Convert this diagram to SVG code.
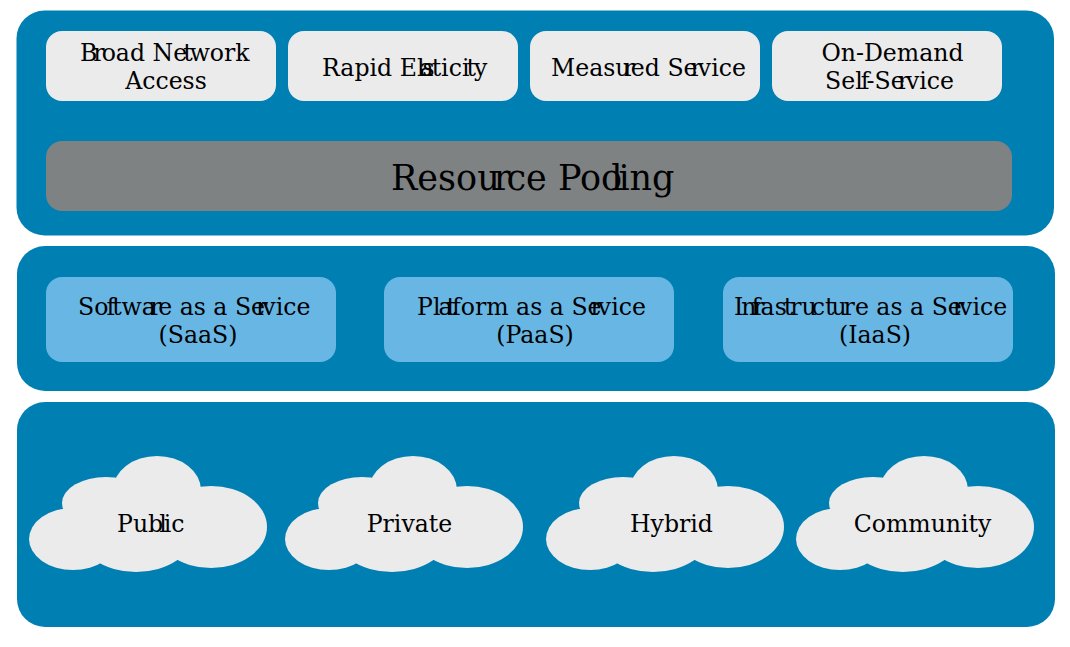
<svg xmlns="http://www.w3.org/2000/svg" width="1070" height="647" viewBox="0 0 1070 647">
<style>
.band{fill:#007fb3}
.light{fill:#ebebeb}
.blue{fill:#68b6e4}
.grey{fill:#7e8283}
text{font-family:"DejaVu Serif",serif;font-size:23.6px;fill:#000}
.big{font-size:35px}
.mid{text-anchor:middle}
</style>
<defs>
<g id="cloud" class="light">
<ellipse cx="73" cy="539" rx="44" ry="31"/>
<ellipse cx="106" cy="503" rx="44" ry="26"/>
<ellipse cx="157" cy="490" rx="44" ry="34"/>
<ellipse cx="211" cy="527" rx="56" ry="41"/>
<ellipse cx="136" cy="532" rx="58" ry="40"/>
<rect x="90" y="500" width="90" height="40"/>
</g>
</defs>
<rect id="band1" class="band" x="16.500" y="10.500" width="1037.500" height="225" rx="28"/>
<rect id="band2" class="band" x="17" y="246" width="1038" height="145" rx="28"/>
<rect id="band3" class="band" x="17" y="402" width="1038" height="225" rx="28"/>
<g id="broad"><rect class="light" x="46" y="31" width="230" height="70" rx="16"/><text x="80" y="61" dx="0 -4 -3 0 0 0 0 0 -4 -3">Broad Network</text><text class="mid" x="166" y="89">Access</text></g>
<g id="rapid"><rect class="light" x="288" y="31" width="230" height="70" rx="16"/><text x="322" y="75.500" dx="0 0 0 0 0 0 0 0 -5 -11 -3 0 0 0 -3 -2">Rapid Elasticity</text></g>
<g id="measured"><rect class="light" x="530" y="31" width="230" height="70" rx="16"/><text x="551" y="75.500" dx="0 0 0 0 0 -7 -4 0 0 0 0 -7 -4">Measured Service</text></g>
<g id="ondemand"><rect class="light" x="772" y="31" width="230" height="70" rx="16"/><text class="mid" x="892.500" y="61">On-Demand</text><text x="825" y="89" dx="0 0 0 -2 -2 0 0 -7 -3">Self-Service</text></g>
<g id="pooling"><rect class="grey" x="46" y="141" width="966" height="70" rx="16"/><text class="big" x="391" y="190" dx="0 0 0 0 0 -6 -4 0 0 0 0 0 -11 -4">Resource Pooling</text></g>
<g id="saas"><rect class="blue" x="46" y="277" width="290" height="85" rx="16"/><text x="78" y="314.500" dx="0 0 -2 -3 0 0 -6 -3 0 0 0 0 0 0 0 0 -9 -5">Software as a Service</text><text class="mid" x="198" y="342.500">(SaaS)</text></g>
<g id="paas"><rect class="blue" x="384" y="277" width="290" height="85" rx="16"/><text x="417" y="314.500" dx="0 0 -2 -6 -4 0 0 0 0 0 0 0 0 0 0 0 -11 -4">Platform as a Service</text><text class="mid" x="535" y="342.500">(PaaS)</text></g>
<g id="iaas"><rect class="blue" x="723" y="277" width="290" height="85" rx="16"/><text x="734" y="314.500" dx="0 -2 -5 -7 -4 0 -3 -3 0 -5 0 -3 -3 0 0 0 0 0 0 0 0 0 -9 -5">Infrastructure as a Service</text><text class="mid" x="875" y="342.500">(IaaS)</text></g>
<g id="public"><use href="#cloud"/><text x="117" y="531.500" dx="0 0 0 -4 -3">Public</text></g>
<g id="private"><use href="#cloud" x="256"/><text class="mid" x="409.500" y="531.500">Private</text></g>
<g id="hybrid"><use href="#cloud" x="517"/><text class="mid" x="671.500" y="531.500">Hybrid</text></g>
<g id="community"><use href="#cloud" x="767"/><text class="mid" x="922.500" y="531.500">Community</text></g>
<g id="connectors"/>
</svg>
